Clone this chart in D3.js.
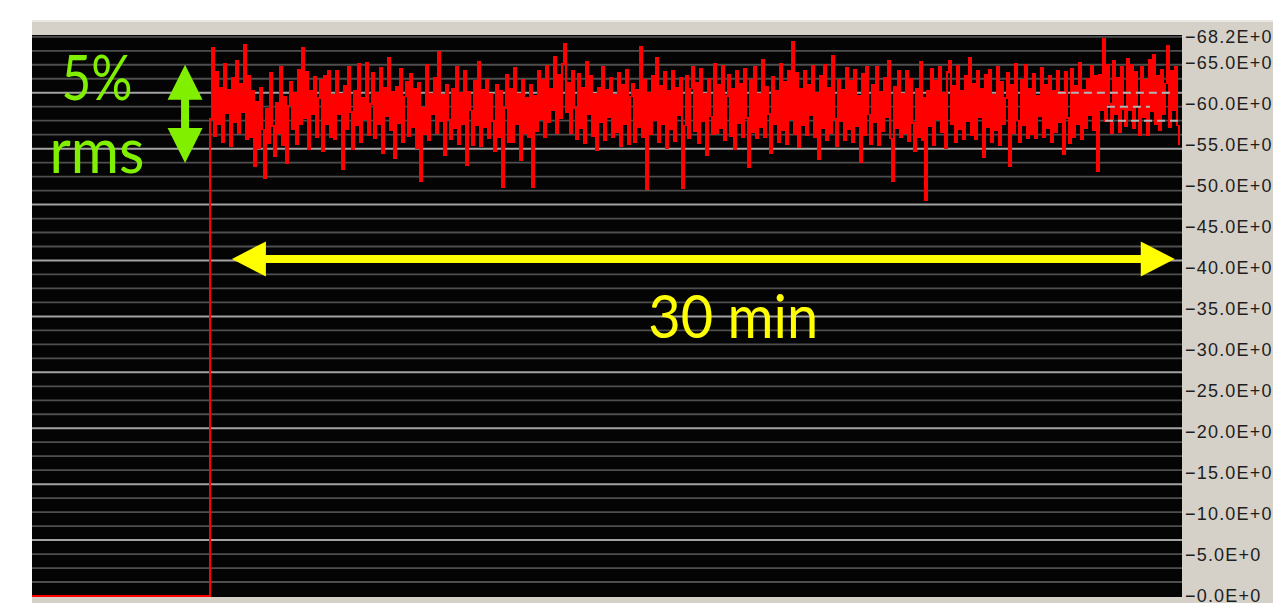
<!DOCTYPE html>
<html>
<head>
<meta charset="utf-8">
<script src="https://cdn.jsdelivr.net/npm/d3@7"></script>
<style>
  html, body { margin: 0; padding: 0; background: #ffffff; }
  svg { display: block; }
</style>
</head>
<body>
<svg id="chart" width="1273" height="603"></svg>
<script>
// ---------------- DATA ----------------
// y axis tick labels (values as printed on the right axis)
const yTickValues = [-68.2, -65, -60, -55, -50, -45, -40, -35, -30, -25, -20, -15, -10, -5, 0];
// time axis (minutes): visible window and sampling
const timeWindow = [-5.66, 30.93];
const preTriggerStart = -5.66;   // trace sits at 0 before the measurement starts
const preTriggerLevel = 0;
const sampleIntervalMin = 0.0636;
const signalValues = [
-58.2,-66.8,-56.1,-63.9,-57.6,-62.0,-55.3,-64.9,-58.9,-61.7,-54.9,-63.2,-57.8,-65.3,-56.4,-62.5,-59.0,-67.2,-55.7,-63.5,
-56.0,-61.6,-52.4,-60.3,-54.6,-62.0,-56.9,-50.9,-59.4,-55.2,-63.8,-57.3,-53.6,-60.2,-56.4,-64.5,-55.0,-60.9,-52.8,-59.8,
-62.7,-56.9,-61.4,-55.1,-64.2,-57.6,-66.9,-58.3,-63.9,-54.5,-61.6,-58.8,-63.3,-56.0,-60.7,-62.9,-54.2,-63.5,-57.6,-64.0,
-56.0,-61.1,-55.7,-64.0,-58.8,-61.3,-52.1,-62.2,-56.9,-64.6,-59.0,-54.5,-61.6,-57.4,-64.9,-55.3,-60.8,-58.1,-65.0,-56.2,
-60.0,-63.8,-55.8,-61.4,-57.5,-64.4,-54.0,-62.0,-58.5,-65.6,-56.8,-61.5,-53.4,-62.1,-57.7,-64.3,-55.3,-60.9,-62.7,-56.1,
-63.7,-57.2,-61.9,-54.6,-62.6,-50.6,-59.6,-56.3,-64.8,-55.6,-61.3,-58.7,-63.2,-56.4,-66.4,-57.9,-61.1,-53.7,-62.3,-58.1,
-55.7,-61.9,-57.0,-64.5,-55.1,-61.4,-57.6,-64.1,-52.6,-61.5,-59.2,-55.0,-62.8,-57.4,-65.1,-54.9,-61.7,-57.2,-63.0,-55.8,
-61.2,-57.9,-54.2,-62.4,-56.0,-61.6,-49.9,-59.5,-63.6,-55.3,-61.8,-55.4,-64.4,-57.6,-61.2,-53.1,-62.9,-56.5,-60.8,-55.9,
-62.4,-49.8,-61.0,-56.7,-64.1,-58.1,-63.0,-56.0,-64.7,-57.8,-61.8,-59.3,-65.8,-56.5,-63.6,-58.3,-64.9,-67.3,-59.0,-62.6,
-56.4,-64.0,-59.5,-55.7,-63.7,-57.0,-62.0,-55.2,-65.2,-58.7,-63.4,-56.1,-61.3,-54.4,-62.0,-57.8,-64.5,-55.6,-61.7,-58.4,
-63.2,-55.9,-61.1,-56.6,-63.8,-54.8,-62.3,-57.5,-64.2,-55.1,-60.9,-62.5,-55.3,-61.7,-57.2,-67.0,-56.0,-62.9,-49.6,-61.4,
-56.3,-63.5,-58.0,-65.6,-55.4,-62.2,-57.6,-63.9,-54.6,-61.6,-56.9,-64.1,-55.5,-62.0,-58.6,-63.2,-49.7,-57.4,-63.4,-55.8,
-61.9,-64.6,-56.7,-62.6,-55.2,-64.3,-57.9,-61.2,-53.8,-63.1,-58.5,-56.3,-64.9,-56.4,-62.4,-57.1,-64.7,-55.6,-61.0,-63.6,
-56.1,-61.8,-54.5,-64.0,-57.7,-62.5,-56.0,-64.3,-58.3,-52.3,-62.9,-56.6,-64.6,-55.8,-61.3,-57.2,-65.4,-55.9,-62.1,-58.8,
-54.0,-63.3,-57.6,-61.6,-55.4,-64.9,-56.8,-62.7,-55.1,-64.0,-58.1,-67.6,-56.3,-63.8,-54.7,-61.9,-57.4,-64.1,-56.2,-62.3,
-58.6,-64.7,-55.9,-61.4,-53.3,-63.5,-57.0,-64.8,-55.6,-62.0,-56.5,-65.9,-58.2,-54.9,-63.0,-57.9,-61.7,-55.6,-64.4,-56.9,
-62.8,-55.4,-64.2,-57.3,-61.0,-52.9,-63.7,-56.2,-64.5,-58.7,-55.1,-62.4,-57.8,-64.6,-55.0,-61.5,-56.7,-63.2,-58.4,-65.3,
-55.8,-50.6,-62.1,-57.1,-64.0,-55.9,-61.2,-56.4,-64.1,-55.5,-63.1,-57.7,-54.3,-61.9,-56.0,-65.2,-55.6,-60.8,-48.3,-61.6,
-57.3,-64.3,-55.0,-62.8,-58.1,-64.6,-56.6,-61.4,-54.6,-63.9,-65.3,-57.5,-62.2,-55.3,-64.7,-56.9,-61.6,-55.7,-63.4,-57.9,
-65.6,-56.2,-62.5,-55.7,-64.1,-58.4,-61.8,-53.5,-63.6,-57.2,-64.2,-55.3,-61.1,-56.8,-64.5,-55.0,-62.7,-57.6,-60.7,-63.8,
-52.4,-62.3,-56.5,-64.9,-58.0,-55.4,-63.0,-57.4,-64.8,-55.8,-61.9,-56.3,-63.7,-55.8,-61.0,-58.5,-64.4,-55.9,-62.3,-57.0,
-63.4,-55.4,-61.6,-56.6,-64.0,-57.8,-61.5,-53.9,-63.9,-58.3,-55.2,-64.3,-56.0,-62.2,-57.5,-65.0,-55.7,-61.7,-57.1,-63.1,
-58.6,-64.7,-56.8,-63.4,-51.8,-63.6,-59.2,-68.0,-57.9,-64.8,-60.0,-56.5,-65.3,-58.8,-63.2,-56.6,-64.5,-59.4,-57.3,-65.5,
-59.2,-64.8,-57.0,-63.9,-59.6,-56.2,-64.6,-58.4,-62.9,-56.2,-65.4,-59.1,-66.0,-57.6,-63.5,-56.8,-64.2,-58.7,-62.5,-67.1,
-57.2,-64.0,-59.3,-64.6,-57.4,-55.0
];
// annotations (minutes / axis values)
const spanArrow = { from: 0.7, to: 30.7, level: -41.1, label: "30 min", labelAt: 16.65 };
const rmsArrow  = { at: -0.79, top: -64.8, bottom: -52.8, label1: "5%", label2: "rms" };
// horizontal grid: 40 divisions of the full scale, every 4th brighter
const gridDivisions = 40;
const gridMajorEvery = 4;
// dashed light marker segments seen near the right end (grid index, from, to in minutes)
const dashedGridIndex = [36, 35, 34];
const dashedFrom = [26.98, 28.54, 28.48];
const dashedTo   = [30.64, 29.91, 30.80];

// ---------------- LAYOUT ----------------
const W = 1273, H = 603;
const plot = { left: 32, right: 1182, top: 35, bottom: 597 };

const svg = d3.select("#chart");

const x = d3.scaleLinear().domain(timeWindow).range([plot.left, plot.right]);
const y = d3.scaleLinear().domain([0, -68.2]).range([596, 36.8]);

// window chrome
svg.append("rect").attr("x", 0).attr("y", 0).attr("width", W).attr("height", H).attr("fill", "#ffffff");
svg.append("rect").attr("x", plot.left).attr("y", 20).attr("width", W - plot.left).attr("height", H - 20).attr("fill", "#d5d1c9");
svg.append("rect").attr("x", plot.left).attr("y", 20).attr("width", W - plot.left).attr("height", 2).attr("fill", "#ebe8e2");
svg.append("rect").attr("x", plot.left).attr("y", plot.top).attr("width", plot.right - plot.left)
   .attr("height", plot.bottom - plot.top).attr("fill", "#040404");

// clip
svg.append("clipPath").attr("id", "clip").append("rect")
   .attr("x", plot.left).attr("y", plot.top).attr("width", plot.right - plot.left).attr("height", plot.bottom - plot.top);

// grid lines
const step = 68.2 / gridDivisions;
const gridVals = d3.range(1, gridDivisions + 1).map(k => ({ v: -k * step, major: k % gridMajorEvery === 0 && k !== gridDivisions }));
svg.append("g").attr("clip-path", "url(#clip)")
  .selectAll("line").data(gridVals).join("line")
  .attr("x1", plot.left).attr("x2", plot.right)
  .attr("y1", d => y(d.v)).attr("y2", d => y(d.v))
  .attr("stroke", d => d.major ? "#a2a2a2" : "#4e4e4e")
  .attr("stroke-width", d => d.major ? 2 : 1.8);

// trace (sample-and-hold, as the instrument draws it)
const tracePts = [[preTriggerStart, preTriggerLevel], [0, preTriggerLevel]]
  .concat(signalValues.map((v, i) => [i * sampleIntervalMin, v]));
const line = d3.line().x(d => Math.round(x(d[0]))).y(d => y(d[1])).curve(d3.curveStepAfter);
svg.append("path").attr("clip-path", "url(#clip)")
  .datum(tracePts).attr("d", line)
  .attr("fill", "none").attr("stroke", "#ff0000").attr("stroke-width", 1.6)
  .attr("stroke-linejoin", "miter")
  .attr("shape-rendering", "crispEdges");
// pre-trigger baseline and the jump at t = 0, drawn a bit heavier
svg.append("path").attr("clip-path", "url(#clip)")
  .datum(tracePts.slice(0, 3)).attr("d", line)
  .attr("fill", "none").attr("stroke", "#ff0000").attr("stroke-width", 2)
  .attr("shape-rendering", "crispEdges");

// dashed marker segments over the trace
svg.append("g").attr("clip-path", "url(#clip)")
  .selectAll("line").data(dashedGridIndex).join("line")
  .attr("x1", (k, i) => x(dashedFrom[i])).attr("x2", (k, i) => x(dashedTo[i]))
  .attr("y1", k => y(-k * step)).attr("y2", k => y(-k * step))
  .attr("stroke", "#b4b4b4").attr("stroke-width", 2).attr("stroke-dasharray", "8,5");

// right axis
const axis = d3.axisRight(y).tickValues(yTickValues).tickSize(0).tickPadding(3)
  .tickFormat(v => "\u2212" + Math.abs(v).toFixed(1) + "E+0");
const gAxis = svg.append("g").attr("transform", `translate(${plot.right},0)`).call(axis);
gAxis.select(".domain").remove();
gAxis.selectAll("text")
  .attr("font-family", "'Liberation Sans', Arial, sans-serif")
  .attr("font-size", 18).attr("letter-spacing", "1.2px")
  .attr("fill", "#1e1e1e");

// double arrow helper (polygon from scale coordinates)
function hArrow(x1, x2, yc, headLen, headHalf, shaftHalf) {
  return [[x1, yc], [x1 + headLen, yc - headHalf], [x1 + headLen, yc - shaftHalf],
          [x2 - headLen, yc - shaftHalf], [x2 - headLen, yc - headHalf], [x2, yc],
          [x2 - headLen, yc + headHalf], [x2 - headLen, yc + shaftHalf],
          [x1 + headLen, yc + shaftHalf], [x1 + headLen, yc + headHalf]];
}
function vArrow(xc, y1, y2, headLen, headHalf, shaftHalf) {
  return hArrow(y1, y2, xc, headLen, headHalf, shaftHalf).map(p => [p[1], p[0]]);
}
const poly = d3.line();

// yellow 30 min arrow
svg.append("path")
  .attr("d", poly(hArrow(x(spanArrow.from), x(spanArrow.to), y(spanArrow.level), 34, 17.5, 4)) + "Z")
  .attr("fill", "#ffff00");
svg.append("text")
  .attr("x", x(spanArrow.labelAt)).attr("y", 338)
  .attr("text-anchor", "middle")
  .attr("font-family", "Lato, 'Open Sans', sans-serif").attr("font-size", 60)
  .attr("textLength", 170).attr("lengthAdjust", "spacingAndGlyphs")
  .attr("fill", "#ffff00").text(spanArrow.label);

// green rms arrow
const green = "#80f000";
svg.append("path")
  .attr("d", poly(vArrow(x(rmsArrow.at), y(rmsArrow.top), y(rmsArrow.bottom), 35, 17.5, 4)) + "Z")
  .attr("fill", green);
svg.append("text").attr("x", 97).attr("y", 100).attr("text-anchor", "middle")
  .attr("font-family", "Lato, 'Open Sans', sans-serif").attr("font-size", 61)
  .attr("textLength", 71).attr("lengthAdjust", "spacingAndGlyphs")
  .attr("fill", green).text(rmsArrow.label1);
svg.append("text").attr("x", 97).attr("y", 173).attr("text-anchor", "middle")
  .attr("font-family", "Lato, 'Open Sans', sans-serif").attr("font-size", 61)
  .attr("textLength", 95).attr("lengthAdjust", "spacingAndGlyphs")
  .attr("fill", green).text(rmsArrow.label2);
</script>
</body>
</html>
